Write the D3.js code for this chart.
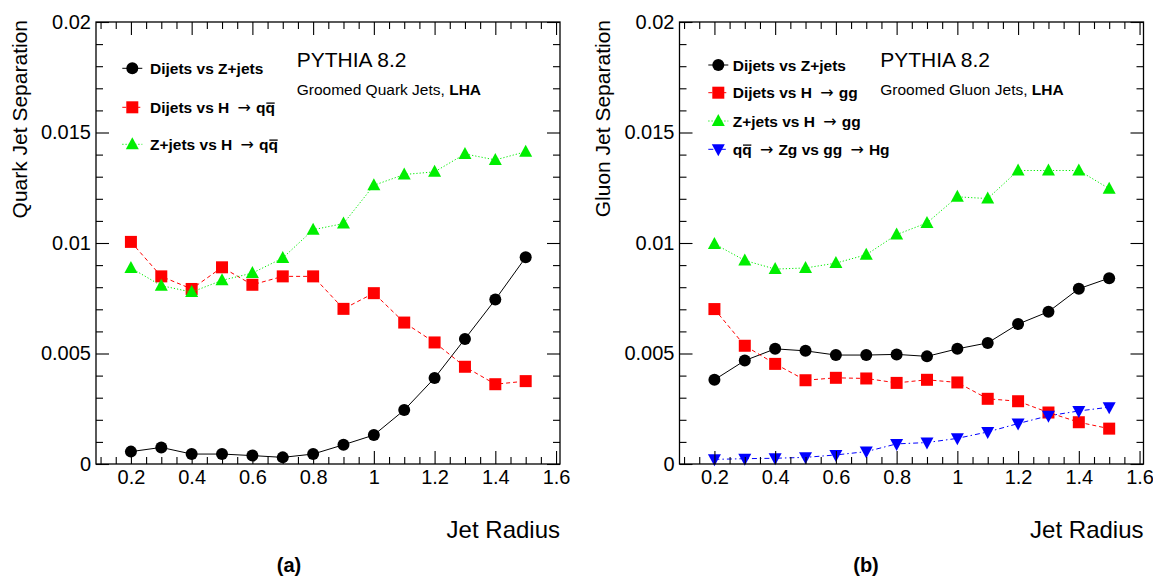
<!DOCTYPE html>
<html>
<head>
<meta charset="utf-8">
<script src="https://cdn.jsdelivr.net/npm/d3@7"></script>
<style>
  html, body { margin: 0; padding: 0; background: #fff; }
  svg { display: block; }
  text { font-family: "Liberation Sans", Arial, Helvetica, sans-serif; fill: #000; }
</style>
</head>
<body>
<svg id="chart" width="1153" height="576"></svg>
<script>
// ---------------- data ----------------
const radii = [0.2, 0.3, 0.4, 0.5, 0.6, 0.7, 0.8, 0.9, 1.0, 1.1, 1.2, 1.3, 1.4, 1.5];

// (a) Groomed Quark Jets, LHA
const quarkDijetsVsZjets = [0.00056, 0.00075, 0.00045, 0.00045, 0.00038, 0.00030, 0.00045, 0.00087, 0.00131, 0.00244, 0.00389, 0.00566, 0.00744, 0.00935];
const quarkDijetsVsHqq  = [0.01005, 0.00849, 0.00792, 0.00890, 0.00811, 0.00849, 0.00849, 0.00702, 0.00773, 0.00640, 0.00550, 0.00440, 0.00361, 0.00375];
const quarkZjetsVsHqq   = [0.00887, 0.00807, 0.00778, 0.00831, 0.00864, 0.00932, 0.01060, 0.01088, 0.01261, 0.01310, 0.01322, 0.01403, 0.01376, 0.01413];

// (b) Groomed Gluon Jets, LHA
const gluonDijetsVsZjets = [0.00381, 0.00468, 0.00521, 0.00512, 0.00493, 0.00493, 0.00496, 0.00487, 0.00521, 0.00548, 0.00633, 0.00689, 0.00793, 0.00841];
const gluonDijetsVsHgg   = [0.00701, 0.00535, 0.00453, 0.00379, 0.00390, 0.00387, 0.00367, 0.00381, 0.00369, 0.00295, 0.00284, 0.00233, 0.00189, 0.00160];
const gluonZjetsVsHgg    = [0.00996, 0.00921, 0.00882, 0.00887, 0.00909, 0.00947, 0.01038, 0.01091, 0.01209, 0.01201, 0.01328, 0.01328, 0.01328, 0.01246];
const gluonQqZgVsGgHg    = [0.00021, 0.00024, 0.00026, 0.00030, 0.00041, 0.00056, 0.00091, 0.00097, 0.00116, 0.00145, 0.00183, 0.00218, 0.00240, 0.00257];

// axis ticks / labels
const xTickValues = [0.2, 0.4, 0.6, 0.8, 1.0, 1.2, 1.4, 1.6];
const xTickLabels = ["0.2", "0.4", "0.6", "0.8", "1", "1.2", "1.4", "1.6"];
const yTickValues = [0, 0.005, 0.01, 0.015, 0.02];
const yTickLabels = ["0", "0.005", "0.01", "0.015", "0.02"];
const xDomain = [0.085, 1.613];
const yDomain = [0, 0.02];

// ---------------- styles ----------------
const seriesStyle = {
  circle:   { color: "#000000", dash: null,        marker: "circle" },
  square:   { color: "#ff0000", dash: "4,3",       marker: "square" },
  triUp:    { color: "#00ee00", dash: "1.2,2",     marker: "triUp" },
  triDown:  { color: "#0000ff", dash: "5,3,1.5,3", marker: "triDown" }
};

const panels = [
  {
    x0: 96, label: "(a)", labelX: 289, ytitle: "Quark Jet Separation", ytitleX: 26.5,
    sub: "Groomed Quark Jets, ",
    legend: { mx: 132.3, tx: 150, rows: [68.3, 107.3, 144.3] },
    series: [
      { values: quarkDijetsVsZjets, style: "circle",  text: [["Dijets vs Z+jets", "b"]] },
      { values: quarkDijetsVsHqq,   style: "square",  text: [["Dijets vs H", "b"], ["arrow"], ["q", "b"], ["q", "bo"]] },
      { values: quarkZjetsVsHqq,    style: "triUp",   text: [["Z+jets vs H", "b"], ["arrow"], ["q", "b"], ["q", "bo"]] }
    ]
  },
  {
    x0: 679.5, label: "(b)", labelX: 866, ytitle: "Gluon Jet Separation", ytitleX: 609.5,
    sub: "Groomed Gluon Jets, ",
    legend: { mx: 718.3, tx: 732.7, rows: [65, 92.7, 121, 149.3] },
    series: [
      { values: gluonDijetsVsZjets, style: "circle",  text: [["Dijets vs Z+jets", "b"]] },
      { values: gluonDijetsVsHgg,   style: "square",  text: [["Dijets vs H", "b"], ["arrow"], ["gg", "b"]] },
      { values: gluonZjetsVsHgg,    style: "triUp",   text: [["Z+jets vs H", "b"], ["arrow"], ["gg", "b"]] },
      { values: gluonQqZgVsGgHg,    style: "triDown", text: [["q", "b"], ["q", "bo"], ["arrow"], ["Zg vs gg", "b"], ["arrow"], ["Hg", "b"]] }
    ]
  }
];

const PW = 464, Y0 = 464, Y1 = 22;

const svg = d3.select("#chart");

function drawMarker(g, type, x, y, color) {
  if (type === "circle") {
    g.append("circle").attr("cx", x).attr("cy", y).attr("r", 6).attr("fill", color);
  } else if (type === "square") {
    g.append("rect").attr("x", x - 6).attr("y", y - 6).attr("width", 12).attr("height", 12).attr("fill", color);
  } else if (type === "triUp") {
    g.append("path").attr("d", `M${x - 6.5},${y + 5} L${x + 6.5},${y + 5} L${x},${y - 7} Z`).attr("fill", color);
  } else if (type === "triDown") {
    g.append("path").attr("d", `M${x - 6.5},${y - 5} L${x + 6.5},${y - 5} L${x},${y + 7} Z`).attr("fill", color);
  }
}

panels.forEach(p => {
  const g = svg.append("g");
  const x = d3.scaleLinear().domain(xDomain).range([p.x0, p.x0 + PW]);
  const y = d3.scaleLinear().domain(yDomain).range([Y0, Y1]);

  // series lines & markers
  p.series.forEach(s => {
    const st = seriesStyle[s.style];
    const line = d3.line().x((d, i) => x(radii[i])).y(d => y(d));
    g.append("path").datum(s.values).attr("d", line)
      .attr("fill", "none").attr("stroke", st.color).attr("stroke-width", 1)
      .attr("stroke-dasharray", st.dash);
    const mg = g.append("g");
    s.values.forEach((v, i) => drawMarker(mg, st.marker, x(radii[i]), y(v), st.color));
  });

  // axes (ticks inward)
  const minorX = d3.range(0.1, 1.601, 0.05).map(v => +v.toFixed(2)).filter(v => !xTickValues.some(t => Math.abs(t - v) < 1e-6));
  const minorY = d3.range(0, 0.02001, 0.001).map(v => +v.toFixed(3)).filter(v => !yTickValues.some(t => Math.abs(t - v) < 1e-9));

  const ax = g.append("g").attr("class", "axes");
  const bottomMajor = d3.axisBottom(x).tickValues(xTickValues).tickSize(-13).tickPadding(6)
    .tickFormat((d, i) => xTickLabels[i]);
  const bottomMinor = d3.axisBottom(x).tickValues(minorX).tickSize(-7).tickFormat("");
  const topMajor = d3.axisTop(x).tickValues(xTickValues).tickSize(-13).tickFormat("");
  const topMinor = d3.axisTop(x).tickValues(minorX).tickSize(-7).tickFormat("");
  const leftMajor = d3.axisLeft(y).tickValues(yTickValues).tickSize(-13).tickPadding(5)
    .tickFormat((d, i) => yTickLabels[i]);
  const leftMinor = d3.axisLeft(y).tickValues(minorY).tickSize(-7).tickFormat("");
  const rightMajor = d3.axisRight(y).tickValues(yTickValues).tickSize(-13).tickFormat("");
  const rightMinor = d3.axisRight(y).tickValues(minorY).tickSize(-7).tickFormat("");

  [[bottomMajor, `translate(0,${Y0})`], [bottomMinor, `translate(0,${Y0})`],
   [topMajor, `translate(0,${Y1})`], [topMinor, `translate(0,${Y1})`],
   [leftMajor, `translate(${p.x0},0)`], [leftMinor, `translate(${p.x0},0)`],
   [rightMajor, `translate(${p.x0 + PW},0)`], [rightMinor, `translate(${p.x0 + PW},0)`]].forEach(([a, t]) => {
    const gg = ax.append("g").attr("transform", t).call(a);
    gg.select(".domain").remove();
    gg.selectAll(".tick line").attr("stroke", "#000").attr("stroke-width", 1.1);
    gg.selectAll("text").attr("font-size", 20).attr("font-family", '"Liberation Sans", Arial, sans-serif').attr("fill", "#000");
  });

  g.append("rect").attr("x", p.x0).attr("y", Y1).attr("width", PW).attr("height", Y0 - Y1)
    .attr("fill", "none").attr("stroke", "#000").attr("stroke-width", 1.3);

  // titles
  g.append("text").attr("x", p.x0 + PW).attr("y", 538).attr("text-anchor", "end")
    .attr("font-size", 24).text("Jet Radius");
  g.append("text").attr("transform", `translate(${p.ytitleX},20) rotate(-90)`).attr("text-anchor", "end")
    .attr("font-size", 21).text(p.ytitle);
  g.append("text").attr("x", p.x0 + 200.7).attr("y", 66.7).attr("font-size", 21).text("PYTHIA 8.2");
  const sub = g.append("text").attr("x", p.x0 + 200.7).attr("y", 95).attr("font-size", 15.5);
  sub.append("tspan").text(p.sub);
  sub.append("tspan").attr("font-weight", "bold").text("LHA");

  g.append("text").attr("x", p.labelX).attr("y", 572).attr("text-anchor", "middle")
    .attr("font-family", '"Liberation Serif", "DejaVu Serif", serif').attr("font-weight", "bold")
    .attr("font-size", 20).text(p.label);

  // legend
  p.series.forEach((s, i) => {
    const st = seriesStyle[s.style];
    const ly = p.legend.rows[i];
    g.append("line").attr("x1", p.legend.mx - 10).attr("x2", p.legend.mx + 10)
      .attr("y1", ly).attr("y2", ly).attr("stroke", st.color).attr("stroke-width", 1)
      .attr("stroke-dasharray", st.dash);
    drawMarker(g, st.marker, p.legend.mx, ly, st.color);
    const t = g.append("text").attr("x", p.legend.tx).attr("y", ly + 5.6)
      .attr("font-size", 15.5).attr("font-weight", "bold");
    const overlined = [];
    s.text.forEach(([str, f]) => {
      if (str === "arrow") {
        t.append("tspan").attr("font-weight", "normal").attr("font-family", '"DejaVu Sans", sans-serif')
          .attr("font-size", 16).text("\u2009 \u2192 ");
      } else {
        const ts = t.append("tspan").text(str);
        if (f.includes("o")) overlined.push(ts);
      }
    });
    // overline bars (q-bar) drawn above the glyph
    overlined.forEach(ts => {
      const node = ts.node();
      const bb = node.getBBox();
      g.append("line").attr("x1", bb.x + 0.8).attr("x2", bb.x + bb.width - 0.3)
        .attr("y1", ly - 4.2).attr("y2", ly - 4.2)
        .attr("stroke", "#000").attr("stroke-width", 1.3);
    });
  });
});
</script>
</body>
</html>
